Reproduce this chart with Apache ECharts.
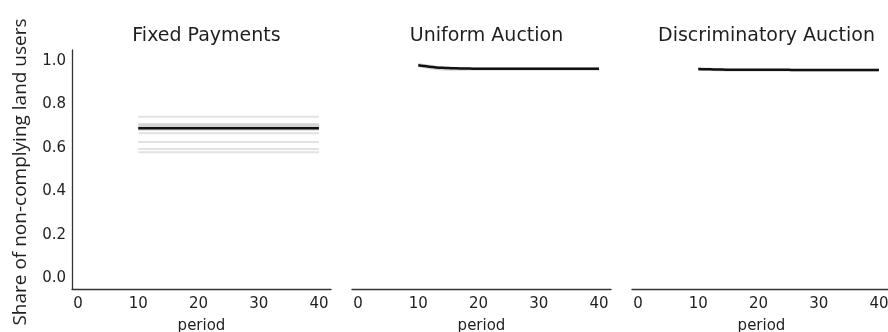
<!DOCTYPE html>
<html>
<head>
<meta charset="utf-8">
<script src="https://cdn.jsdelivr.net/npm/echarts@6/dist/echarts.min.js"></script>
<style>
  html, body { margin: 0; padding: 0; background: #ffffff; }
  #chart { width: 888px; height: 332px; }
</style>
</head>
<body>
<div id="chart"></div>
<script>
// Simulation periods shown on every panel
const periods = [10, 11, 12, 13, 14, 15, 16, 17, 18, 19, 20, 21, 22, 23, 24, 25,
                 26, 27, 28, 29, 30, 31, 32, 33, 34, 35, 36, 37, 38, 39, 40];

const panelTitles = ['Fixed Payments', 'Uniform Auction', 'Discriminatory Auction'];
const xTicks = [0, 10, 20, 30, 40];
const yTicks = [0.0, 0.2, 0.4, 0.6, 0.8, 1.0];

// Fixed payments: share stays constant over time
const fixedRunLevels = [0.743, 0.703, 0.667, 0.627, 0.594, 0.579];
const fixedMeanLevel = 0.690;
const fixedLowLevel = 0.679;
const fixedHighLevel = 0.713;

// Uniform auction: mean share and its confidence band
const uniformMean = [0.980, 0.976, 0.973, 0.970, 0.968, 0.967, 0.966, 0.965, 0.965, 0.964,
                     0.964, 0.964, 0.964, 0.964, 0.964, 0.964, 0.964, 0.964, 0.964, 0.964,
                     0.964, 0.964, 0.964, 0.964, 0.964, 0.964, 0.964, 0.964, 0.964, 0.964, 0.964];
const uniformHigh = [0.990, 0.986, 0.982, 0.978, 0.975, 0.973, 0.972, 0.971, 0.971, 0.971,
                     0.971, 0.971, 0.971, 0.971, 0.971, 0.971, 0.971, 0.971, 0.971, 0.971,
                     0.971, 0.971, 0.971, 0.971, 0.971, 0.971, 0.971, 0.971, 0.971, 0.971, 0.971];
const uniformLow  = [0.972, 0.966, 0.961, 0.958, 0.956, 0.955, 0.955, 0.955, 0.955, 0.956,
                     0.956, 0.956, 0.956, 0.956, 0.956, 0.956, 0.956, 0.956, 0.956, 0.956,
                     0.956, 0.956, 0.956, 0.956, 0.956, 0.956, 0.956, 0.956, 0.956, 0.956, 0.956];

// Discriminatory auction: mean share and its confidence band
const discMean = [0.962, 0.961, 0.961, 0.960, 0.960, 0.959, 0.959, 0.959, 0.959, 0.959,
                  0.959, 0.959, 0.959, 0.959, 0.959, 0.959, 0.958, 0.958, 0.958, 0.958,
                  0.958, 0.958, 0.958, 0.958, 0.958, 0.958, 0.958, 0.958, 0.958, 0.958, 0.958];
const discHigh = [0.972, 0.970, 0.968, 0.966, 0.965, 0.964, 0.964, 0.964, 0.964, 0.964,
                  0.964, 0.964, 0.964, 0.964, 0.964, 0.964, 0.964, 0.964, 0.964, 0.964,
                  0.964, 0.964, 0.964, 0.964, 0.964, 0.964, 0.964, 0.964, 0.964, 0.964, 0.964];
const discLow  = [0.955, 0.954, 0.953, 0.952, 0.951, 0.951, 0.951, 0.951, 0.951, 0.951,
                  0.951, 0.951, 0.951, 0.951, 0.951, 0.951, 0.951, 0.951, 0.951, 0.951,
                  0.951, 0.951, 0.951, 0.951, 0.951, 0.951, 0.951, 0.951, 0.951, 0.951, 0.951];

const TEXT = '#1f1f1f';
const AXIS = '#333333';
const TICK_FONT = 'DejaVu Sans';

const pair = (vals) => periods.map((p, i) => [p, vals[i]]);
const flat = (level) => periods.map(() => level);

const panelLeft = [72, 352, 632];
const panelWidth = 259;

const grids = panelLeft.map((l) => ({
  left: l, width: panelWidth, top: 50, bottom: 43,
  containLabel: false, outerBoundsMode: 'none'
}));

const xAxes = panelLeft.map((l, i) => ({
  type: 'value', gridIndex: i, min: -1, max: 42,
  name: 'period', nameLocation: 'middle', nameGap: 30,
  nameTextStyle: { color: TEXT, fontFamily: TICK_FONT, fontSize: 15 },
  axisLine: { show: true, onZero: false, lineStyle: { color: AXIS, width: 1.3 } },
  axisTick: { show: false },
  splitLine: { show: false },
  axisLabel: { customValues: xTicks, color: TEXT, fontFamily: TICK_FONT, fontSize: 15, margin: 8 }
}));

const yAxes = panelLeft.map((l, i) => ({
  type: 'value', gridIndex: i, min: -0.05, max: 1.05,
  axisLine: { show: i === 0, onZero: false, lineStyle: { color: AXIS, width: 1.3 } },
  axisTick: { show: false },
  splitLine: { show: false },
  axisLabel: {
    show: i === 0, customValues: yTicks, color: TEXT, fontFamily: TICK_FONT, fontSize: 15, margin: 6,
    formatter: (v) => v.toFixed(1)
  }
}));

function line(idx, vals, color, width, z) {
  return {
    type: 'line', xAxisIndex: idx, yAxisIndex: idx, data: pair(vals),
    symbol: 'none', silent: true, z: z,
    lineStyle: { color: color, width: width }
  };
}

// Confidence band drawn as one polygon through the axis scales
function band(idx, low, high, color) {
  return {
    type: 'custom', xAxisIndex: idx, yAxisIndex: idx, silent: true, z: 2,
    data: [0],
    renderItem: (params, api) => {
      const upper = periods.map((p, i) => api.coord([p, high[i]]));
      const lower = periods.map((p, i) => api.coord([p, low[i]])).reverse();
      return {
        type: 'polygon',
        shape: { points: upper.concat(lower) },
        style: { fill: color }
      };
    }
  };
}

const series = [];
fixedRunLevels.forEach((lv) => series.push(line(0, flat(lv), '#e2e2e2', 2, 1)));
series.push(band(0, flat(fixedLowLevel), flat(fixedHighLevel), '#d4d4d4'));
series.push(line(0, flat(fixedMeanLevel), '#111111', 2.5, 3));

series.push(band(1, uniformLow, uniformHigh, '#d6d6d6'));
series.push(Object.assign(line(1, uniformMean, '#111111', 2.5, 3), { smooth: true }));

series.push(band(2, discLow, discHigh, '#d6d6d6'));
series.push(Object.assign(line(2, discMean, '#111111', 2.5, 3), { smooth: true }));

const titles = panelTitles.map((t, i) => ({
  text: t, left: panelLeft[i] + panelWidth / 2, top: 22, textAlign: 'center',
  textStyle: { color: TEXT, fontFamily: TICK_FONT, fontSize: 19, fontWeight: 'normal' }
}));

const option = {
  backgroundColor: '#ffffff',
  animation: false,
  title: titles,
  grid: grids,
  xAxis: xAxes,
  yAxis: yAxes,
  series: series,
  graphic: [{
    type: 'text', rotation: Math.PI / 2, x: 11, y: 172,
    style: {
      text: 'Share of non-complying land users', fill: TEXT,
      font: '19px "Open Sans"', textAlign: 'center', textVerticalAlign: 'top'
    }
  }]
};

const chart = echarts.init(document.getElementById('chart'), null, { renderer: 'canvas' });
chart.setOption(option);
</script>
</body>
</html>
